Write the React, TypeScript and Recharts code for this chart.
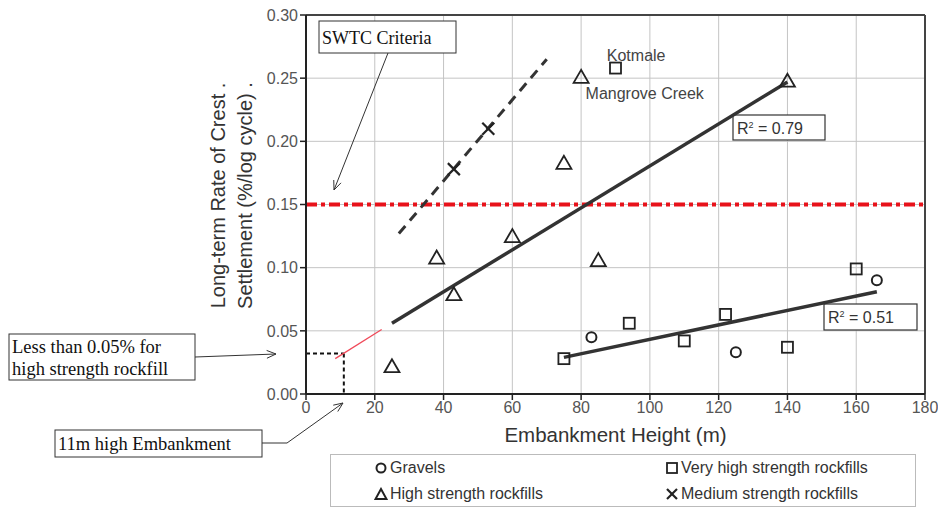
import {
  ComposedChart,
  Scatter,
  XAxis,
  YAxis,
  CartesianGrid,
  ReferenceLine,
  ReferenceDot,
  Legend,
  Customized,
} from "recharts";

// Embankment height (m) vs long-term crest settlement rate (%/log cycle)
const gravels = [
  { x: 83, y: 0.045 },
  { x: 125, y: 0.033 },
  { x: 166, y: 0.09 },
];
const veryHighRockfill = [
  { x: 75, y: 0.028 },
  { x: 90, y: 0.258 },
  { x: 94, y: 0.056 },
  { x: 110, y: 0.042 },
  { x: 122, y: 0.063 },
  { x: 140, y: 0.037 },
  { x: 160, y: 0.099 },
];
const highRockfill = [
  { x: 25, y: 0.022 },
  { x: 38, y: 0.108 },
  { x: 43, y: 0.079 },
  { x: 60, y: 0.125 },
  { x: 75, y: 0.183 },
  { x: 80, y: 0.251 },
  { x: 85, y: 0.106 },
  { x: 140, y: 0.248 },
];
const mediumRockfill = [
  { x: 43, y: 0.178 },
  { x: 53, y: 0.21 },
];

// trend lines (end points)
const highTrend = [{ x: 25, y: 0.056 }, { x: 140, y: 0.247 }];
const highTrendExt = [{ x: 8.5, y: 0.028 }, { x: 22, y: 0.051 }];
const veryHighTrend = [{ x: 75, y: 0.029 }, { x: 166, y: 0.081 }];
const mediumTrend = [{ x: 27, y: 0.127 }, { x: 70, y: 0.265 }];
const guideH = [{ x: 0, y: 0.032 }, { x: 11, y: 0.032 }];
const guideV = [{ x: 11, y: 0.032 }, { x: 11, y: 0 }];
const swtcLimit = 0.15;

const xTicks = [0, 20, 40, 60, 80, 100, 120, 140, 160, 180];
const yTicks = [0, 0.05, 0.1, 0.15, 0.2, 0.25, 0.3];

const SANS = "Arial, 'Liberation Sans', sans-serif";
const SERIF = "'Times New Roman', 'Liberation Serif', serif";
const INK = "#222";

const Circle = (p: any) => (
  <circle cx={p.cx} cy={p.cy} r={5} fill="none" stroke={INK} strokeWidth={2} />
);
const Square = (p: any) => (
  <rect x={p.cx - 5.5} y={p.cy - 5.5} width={11} height={11} fill="none" stroke={INK} strokeWidth={1.8} />
);
const Triangle = (p: any) => (
  <polygon
    points={`${p.cx},${p.cy - 7} ${p.cx - 7.5},${p.cy + 6} ${p.cx + 7.5},${p.cy + 6}`}
    fill="none"
    stroke={INK}
    strokeWidth={1.8}
    strokeLinejoin="miter"
  />
);
const Cross = (p: any) => (
  <g stroke={INK} strokeWidth={2.2}>
    <line x1={p.cx - 6} y1={p.cy - 6} x2={p.cx + 6} y2={p.cy + 6} />
    <line x1={p.cx - 6} y1={p.cy + 6} x2={p.cx + 6} y2={p.cy - 6} />
  </g>
);

const legendItems = [
  { label: "Gravels", icon: "o", left: 43, top: 4 },
  { label: "Very high strength rockfills", icon: "s", left: 334, top: 4 },
  { label: "High strength rockfills", icon: "t", left: 43, top: 30 },
  { label: "Medium strength rockfills", icon: "x", left: 334, top: 30 },
];

function LegendBox() {
  return (
    <div
      style={{
        position: "relative",
        width: 586,
        height: 53,
        border: "1px solid #bbb",
        fontFamily: SANS,
        fontSize: 16,
        color: "#333",
        boxSizing: "border-box",
      }}
    >
      {legendItems.map((it) => (
        <div
          key={it.label}
          style={{ position: "absolute", left: it.left, top: it.top, display: "flex", alignItems: "center" }}
        >
          <svg width={14} height={14} style={{ marginRight: 2 }}>
            {it.icon === "o" && <circle cx={7} cy={7} r={4.5} fill="none" stroke={INK} strokeWidth={2} />}
            {it.icon === "s" && <rect x={2} y={2} width={10} height={10} fill="none" stroke={INK} strokeWidth={1.8} />}
            {it.icon === "t" && <polygon points="7,2 1.5,12 12.5,12" fill="none" stroke={INK} strokeWidth={2} />}
            {it.icon === "x" && (
              <g stroke={INK} strokeWidth={2.2}>
                <line x1={2} y1={2} x2={12} y2={12} />
                <line x1={2} y1={12} x2={12} y2={2} />
              </g>
            )}
          </svg>
          <span>{it.label}</span>
        </div>
      ))}
    </div>
  );
}

function Arrow({ pts }: { pts: number[][] }) {
  const [x1, y1] = pts[pts.length - 2];
  const [x2, y2] = pts[pts.length - 1];
  const a = Math.atan2(y2 - y1, x2 - x1);
  const h = 10;
  const p1 = [x2 - h * Math.cos(a - 0.4), y2 - h * Math.sin(a - 0.4)];
  const p2 = [x2 - h * Math.cos(a + 0.4), y2 - h * Math.sin(a + 0.4)];
  return (
    <g fill="none" stroke="#333" strokeWidth={1}>
      <polyline points={pts.map((p) => p.join(",")).join(" ")} />
      <polyline points={`${p1.join(",")} ${x2},${y2} ${p2.join(",")}`} />
    </g>
  );
}

function Annotations() {
  return (
    <g>
      {/* SWTC criteria */}
      <rect x={319} y={21} width={137} height={32} fill="#fff" stroke="#333" strokeWidth={1} />
      <text x={322} y={44} fontFamily={SERIF} fontSize={18} fill="#111">SWTC Criteria</text>
      <Arrow pts={[[388, 53], [334, 190]]} />

      {/* high strength limit */}
      <rect x={9} y={334} width={186} height={46} fill="#fff" stroke="#333" strokeWidth={1} />
      <text x={12} y={353} fontFamily={SERIF} fontSize={18.5} fill="#111">Less than 0.05% for</text>
      <text x={12} y={375} fontFamily={SERIF} fontSize={18.5} fill="#111">high strength rockfill</text>
      <Arrow pts={[[195, 357], [276, 354]]} />

      {/* 11 m embankment */}
      <rect x={55} y={430} width={207} height={27} fill="#fff" stroke="#333" strokeWidth={1} />
      <text x={58} y={450} fontFamily={SERIF} fontSize={18.5} fill="#111">11m high Embankment</text>
      <Arrow pts={[[262, 443], [287, 443], [343, 403]]} />

      {/* R² boxes */}
      <rect x={733} y={115} width={92} height={25} fill="#fff" stroke="#333" strokeWidth={1.2} />
      <text x={737} y={134} fontFamily={SANS} fontSize={16} fill="#333">
        R<tspan dy={-6} fontSize={9}>2</tspan><tspan dy={6}> = 0.79</tspan>
      </text>
      <rect x={824} y={304} width={93} height={26} fill="#fff" stroke="#333" strokeWidth={1.2} />
      <text x={828} y={323} fontFamily={SANS} fontSize={16} fill="#333">
        R<tspan dy={-6} fontSize={9}>2</tspan><tspan dy={6}> = 0.51</tspan>
      </text>
    </g>
  );
}

const YLabel = (props: any) => {
  const vb = props.viewBox || { x: 0, y: 15, width: 306, height: 379 };
  const cy = vb.y + vb.height / 2 - 9;
  return (
    <g fontFamily={SANS} fontSize={20} fill="#333" textAnchor="middle">
      <text x={225} y={cy} transform={`rotate(-90 225 ${cy})`}>Long-term Rate of Crest .</text>
      <text x={252} y={cy} transform={`rotate(-90 252 ${cy})`}>Settlement (%/log cycle) .</text>
    </g>
  );
};

export default function App() {
  return (
    <div style={{ position: "absolute", left: 0, top: 0, width: 938, height: 509, background: "#fff" }}>
      <ComposedChart
        width={938}
        height={509}
        margin={{ top: 15, right: 13, bottom: 32, left: 0 }}
        style={{ fontFamily: SANS }}
      >
        <CartesianGrid stroke="#c4c4c4" strokeWidth={1} />
        <XAxis
          type="number"
          dataKey="x"
          domain={[0, 180]}
          ticks={xTicks}
          height={30}
          stroke={INK}
          axisLine={{ stroke: INK, strokeWidth: 2 }}
          tickLine={{ stroke: INK, strokeWidth: 1.5 }}
          tickSize={6}
          tick={{ fill: "#555", fontSize: 16 }}
          label={{ value: "Embankment Height (m)", position: "insideBottom", offset: -18, fill: "#333", fontSize: 20.5 }}
        />
        <YAxis
          type="number"
          dataKey="y"
          domain={[0, 0.3]}
          ticks={yTicks}
          width={306}
          stroke={INK}
          axisLine={{ stroke: INK, strokeWidth: 2 }}
          tickLine={{ stroke: INK, strokeWidth: 1.5 }}
          tickSize={6}
          tick={{ fill: "#555", fontSize: 16 }}
          tickFormatter={(v: number) => v.toFixed(2)}
          label={<YLabel />}
        />
        <ReferenceLine x={180} stroke="#444" strokeWidth={2} />
        <ReferenceLine y={0.3} stroke="#444" strokeWidth={2} />

        <ReferenceLine y={swtcLimit} stroke="#e8121a" strokeWidth={4} strokeDasharray="11 4 4 4" />

        <ReferenceLine segment={guideH} stroke="#111" strokeWidth={2} strokeDasharray="4 3" ifOverflow="visible" />
        <ReferenceLine segment={guideV} stroke="#111" strokeWidth={2} strokeDasharray="4 3" ifOverflow="visible" />
        <ReferenceLine segment={highTrendExt} stroke="#f04a5a" strokeWidth={1.3} />
        <ReferenceLine segment={highTrend} stroke="#333" strokeWidth={3.5} />
        <ReferenceLine segment={veryHighTrend} stroke="#333" strokeWidth={3.5} />
        <ReferenceLine segment={mediumTrend} stroke="#333" strokeWidth={3} strokeDasharray="10 7" />

        <Scatter name="Gravels" data={gravels} shape={Circle} isAnimationActive={false} />
        <Scatter name="Very high strength rockfills" data={veryHighRockfill} shape={Square} isAnimationActive={false} />
        <Scatter name="High strength rockfills" data={highRockfill} shape={Triangle} isAnimationActive={false} />
        <Scatter name="Medium strength rockfills" data={mediumRockfill} shape={Cross} isAnimationActive={false} />

        <ReferenceDot
          x={96}
          y={0.268}
          r={0}
          fill="none"
          stroke="none"
          label={{ value: "Kotmale", position: "center", fill: "#444", fontSize: 16 }}
        />
        <ReferenceDot
          x={98.5}
          y={0.238}
          r={0}
          fill="none"
          stroke="none"
          label={{ value: "Mangrove Creek", position: "center", fill: "#444", fontSize: 16 }}
        />

        <Customized component={Annotations} />

        <Legend
          layout="vertical"
          align="center"
          verticalAlign="bottom"
          content={<LegendBox />}
          wrapperStyle={{ position: "absolute", left: 330, top: 454, width: 586, height: 53, bottom: "auto" }}
        />
      </ComposedChart>
    </div>
  );
}
